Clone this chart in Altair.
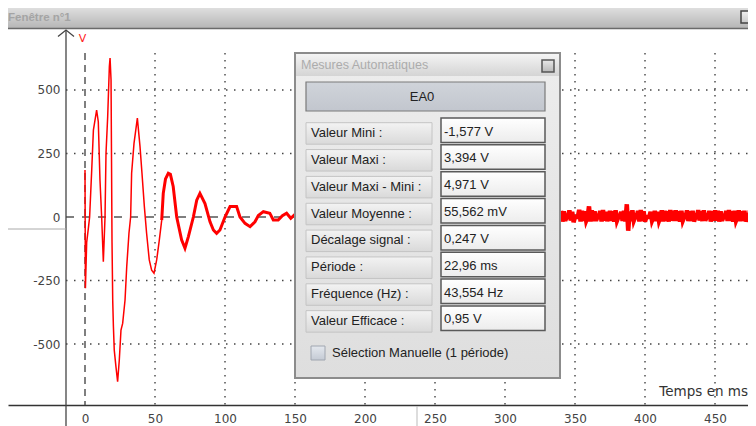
import altair as alt
import pandas as pd

# ---------------- data ----------------
# damped oscillation (time in ms, value in screen units)
osc_t = [0.0, 0.3, 1.2, 2.5, 3.3, 4.8, 6.0, 8.3, 9.5, 10.7, 11.9, 13.1, 14.3, 15.0, 16.2,
         17.4, 17.9, 18.6, 19.3, 19.8, 20.3, 20.9, 22.1, 23.3, 24.5, 25.7, 26.9, 28.6, 29.8,
         31.4, 32.6, 33.3, 35.0, 37.4, 39.3, 40.7, 42.4, 44.0, 45.9, 47.6, 49.3, 51.2, 53.1, 54.8]
osc_v = [185, -280, -100, -40, 0, 185, 342, 421, 375, 146, 0, -176, 0, 250, 395,
         592, 626, 540, -100, -330, -432, -524, -589, -648, -563, -445, -419, -327, -196,
         -64, 0, 172, 290, 389, 277, 172, 41, -64, -169, -209, -221, -169, -90, -12]

# noisy tail of the oscillation (drawn thicker)
tail_t = [54.8, 55.9, 57.5, 59.5, 61.0, 63.0, 65.5, 69.0, 71.4, 73.8, 77.4, 79.8, 82.1, 85.7,
          89.3, 91.7, 94.0, 96.4, 100.0, 103.6, 108.3, 110.7, 114.3, 117.9, 121.4, 123.8,
          127.4, 132.0, 134.5, 138.0, 141.0, 144.0, 147.0, 150.0]
tail_v = [-12, 93, 150, 172, 168, 120, 0, -90, -123, -78, 0, 66, 93, 53,
          -19, -51, -64, -51, 0, 41, 41, 0, -25, -38, -19, 6,
          21, 15, -12, -12, 5, 15, -5, 10]

# noise visible right of the measurement box, one sample per ms from 340 ms
noise_start = 340
noise_v = [24, -18, 22, -15, 0, 0, 26, -14, 20, -20,
           0, 0, 0, 28, -18, 24, -15, 22, -14, 0,
           42, -18, 26, -16, 22, -15, 0, 0, 24, -18,
           27, -14, 20, -16, 0, 24, -15, 22, -18, 26,
           -14, 0, 0, 20, -15, 24, -18, 50, -54, 22,
           -16, 26, -14, 0, 0, 24, -18, 27, -15, 22,
           -18, 0, 0, 0, 20, -14, 0, 24, -16, 20,
           -15, 0, 26, -18, 24, -15, 22, -18, 27, -14,
           24, -16, 26, -15, 22, -18, 24, -14, 0, 0,
           26, -16, 22, -15, 24, -18, 0, 0, 27, -14,
           22, -16, 26, -15, 0, 0, 24, -18, 22, -15,
           26, -14, 24, -18, 22, -15, 0, 0, 24, -16,
           27, -15, 22, -18, 24, -14, 0, 26, -16, 22,
           -15, 24, -18, 0, 0, 26, -15, 22, -18, 24,
           -14]

x_ticks = [0, 50, 100, 150, 200, 250, 300, 350, 400, 450]
y_ticks = [-500, -250, 0, 250, 500]
grid_t = [50, 100, 150, 200, 250, 300, 350, 400, 450]
grid_v = [-500, -250, 250, 500]

meas_labels = ["Valeur Mini :", "Valeur Maxi :", "Valeur Maxi - Mini :", "Valeur Moyenne :",
               "Décalage signal  :", "Période :", "Fréquence (Hz) :", "Valeur Efficace :"]
meas_values = ["-1,577 V", "3,394 V", "4,971 V", "55,562 mV", "0,247 V", "22,96 ms",
               "43,554 Hz", "0,95 V"]

window_title = "Fenêtre n°1"
box_title = "Mesures Automatiques"
channel_name = "EA0"
checkbox_label = "Sélection Manuelle (1 période)"
x_title = "Temps en ms"
y_unit = "V"

# ---------------- tables ----------------
sig = pd.concat([
    pd.DataFrame({"t": osc_t, "v": osc_v, "part": "a"}),
    pd.DataFrame({"t": tail_t, "v": tail_v, "part": "b"}),
    pd.DataFrame({"t": [noise_start + i for i in range(len(noise_v))], "v": noise_v, "part": "c"}),
], ignore_index=True)
hg = pd.DataFrame({"v": grid_v})
vg = pd.DataFrame({"t": grid_t})
zero_df = pd.DataFrame({"v": [0]})
t0_df = pd.DataFrame({"t": [0]})
rows = pd.DataFrame({"label": meas_labels, "value": meas_values, "i": list(range(len(meas_labels)))})
one = pd.DataFrame({"k": [0]})

W, H = 740, 418
FONT_AX = "DejaVu Sans"
FONT_UI = "Liberation Sans"

xs = alt.Scale(domain=[-55, 473.57], nice=False, zero=False)
ys = alt.Scale(domain=[-822.8, 822.8], nice=False, zero=False)
x_axis = alt.Axis(orient="bottom", offset=-21, values=x_ticks, domain=True, domainColor="#333333",
                  domainWidth=1.5, ticks=False, grid=False, labelPadding=17, labelBaseline="alphabetic",
                  labelFont=FONT_AX, labelFontSize=12, labelColor="#444444", labelOverlap=False,
                  labelFlush=False, title=None)
y_axis = alt.Axis(orient="left", offset=-58, values=y_ticks, domain=False, ticks=False, grid=False,
                  labelPadding=6, labelFont=FONT_AX, labelFontSize=12, labelColor="#444444",
                  labelExpr="datum.value + ''", labelOverlap=False, title=None)
X = alt.X("t:Q", scale=xs, axis=x_axis)
Y = alt.Y("v:Q", scale=ys, axis=y_axis)


def grad(c1, c2):
    return alt.LinearGradient(gradient="linear",
                              stops=[alt.GradientStop(offset=0, color=c1),
                                     alt.GradientStop(offset=1, color=c2)],
                              x1=0, x2=0, y1=0, y2=1)


layers = []

# grid
layers.append(alt.Chart(hg).mark_rule(color="#444444", strokeWidth=1.4, strokeDash=[1.5, 6.5]).encode(
    y=Y, x=alt.value(58), x2=alt.value(W)))
layers.append(alt.Chart(vg).mark_rule(color="#444444", strokeWidth=1.4, strokeDash=[1.5, 5.5]).encode(
    x=X, y=alt.value(45), y2=alt.value(397)))
layers.append(alt.Chart(zero_df).mark_rule(color="#555555", strokeWidth=1.5, strokeDash=[8, 8]).encode(
    y=Y, x=alt.value(58), x2=alt.value(W)))
layers.append(alt.Chart(t0_df).mark_rule(color="#555555", strokeWidth=1.5, strokeDash=[7, 5]).encode(
    x=X, y=alt.value(45), y2=alt.value(397)))

# signal
layers.append(alt.Chart(sig).mark_line(color="#ff0000").encode(
    x=X, y=Y, detail="part:N", order="t:Q",
    strokeWidth=alt.StrokeWidth("part:N", scale=alt.Scale(domain=["a", "b", "c"], range=[1.5, 4.5, 1.8]),
                                legend=None)))

# measurement box
layers.append(alt.Chart(one).mark_rect(fill=grad("#ededed", "#dedede"), stroke="#8c8c8c", strokeWidth=2).encode(
    x=alt.value(287), x2=alt.value(552), y=alt.value(45), y2=alt.value(370)))
layers.append(alt.Chart(one).mark_rect(fill=grad("#f4f4f4", "#d4d4d4")).encode(
    x=alt.value(288), x2=alt.value(551), y=alt.value(46), y2=alt.value(68)))
layers.append(alt.Chart(one).mark_text(text=box_title, align="left", baseline="middle", font=FONT_UI,
                                       fontSize=12.5, color="#acacac").encode(
    x=alt.value(293), y=alt.value(57)))
layers.append(alt.Chart(one).mark_rect(fill=grad("#e8e8e8", "#b8b8b8"), stroke="#555555", strokeWidth=1.5).encode(
    x=alt.value(534), x2=alt.value(546), y=alt.value(52), y2=alt.value(64)))
layers.append(alt.Chart(one).mark_rect(fill=grad("#d0d4da", "#c2c6ce"), stroke="#7a7a7a", strokeWidth=1.2).encode(
    x=alt.value(298), x2=alt.value(537), y=alt.value(74), y2=alt.value(103)))
layers.append(alt.Chart(one).mark_text(text=channel_name, align="center", baseline="middle", font=FONT_UI,
                                       fontSize=13, color="#222222").encode(
    x=alt.value(414), y=alt.value(88.5)))

rowc = alt.Chart(rows).transform_calculate(
    vb0="110 + 26.85 * datum.i", vb1="134.5 + 26.85 * datum.i",
    bb0="114.7 + 26.85 * datum.i", bb1="136.2 + 26.85 * datum.i",
    ly="125 + 26.85 * datum.i", vy="123.5 + 26.85 * datum.i")
layers.append(rowc.mark_rect(fill=grad("#f3f3f3", "#d9d9d9"), stroke="#c4c4c4", strokeWidth=1).encode(
    x=alt.value(298), x2=alt.value(424),
    y=alt.Y("bb0:Q", scale=None, axis=None), y2="bb1:Q"))
layers.append(rowc.mark_rect(fill=grad("#ffffff", "#ececec"), stroke="#5a5a5a", strokeWidth=1.5).encode(
    x=alt.value(433), x2=alt.value(537),
    y=alt.Y("vb0:Q", scale=None, axis=None), y2="vb1:Q"))
layers.append(rowc.mark_text(align="left", baseline="middle", font=FONT_UI, fontSize=13, color="#222222").encode(
    x=alt.value(303), y=alt.Y("ly:Q", scale=None, axis=None), text="label:N"))
layers.append(rowc.mark_text(align="left", baseline="middle", font=FONT_UI, fontSize=13, color="#222222").encode(
    x=alt.value(436), y=alt.Y("vy:Q", scale=None, axis=None), text="value:N"))

layers.append(alt.Chart(one).mark_rect(fill=grad("#e4e8ee", "#c4cad4"), stroke="#a0a6b0", strokeWidth=1).encode(
    x=alt.value(303), x2=alt.value(317), y=alt.value(338), y2=alt.value(352)))
layers.append(alt.Chart(one).mark_text(text=checkbox_label, align="left", baseline="middle", font=FONT_UI,
                                       fontSize=13, color="#222222").encode(
    x=alt.value(324), y=alt.value(345)))

# window title bar
layers.append(alt.Chart(one).mark_rect(fill=grad("#dedede", "#b6b6b6")).encode(
    x=alt.value(0), x2=alt.value(W), y=alt.value(0), y2=alt.value(20)))
layers.append(alt.Chart(one).mark_rule(color="#6a6a6a", strokeWidth=1.5).encode(
    x=alt.value(0), x2=alt.value(W), y=alt.value(20.5)))
layers.append(alt.Chart(one).mark_text(text=window_title, align="left", baseline="middle", font=FONT_UI,
                                       fontSize=11.5, fontWeight="bold", color="#a4a4a4").encode(
    x=alt.value(0), y=alt.value(10)))
layers.append(alt.Chart(one).mark_rect(fill=grad("#f0f0f0", "#c8c8c8"), stroke="#444444", strokeWidth=1.5).encode(
    x=alt.value(733), x2=alt.value(743), y=alt.value(3), y2=alt.value(15)))

# y axis line with arrow head and unit
layers.append(alt.Chart(one).mark_rule(color="#444444", strokeWidth=1.3).encode(
    x=alt.value(58), y=alt.value(22), y2=alt.value(H)))
layers.append(alt.Chart(one).mark_point(shape="M-1,0.8L0,0L1,0.8", filled=False, size=256, opacity=1,
                                        stroke="#444444", strokeWidth=1.3).encode(
    x=alt.value(58), y=alt.value(22)))
layers.append(alt.Chart(one).mark_text(text=y_unit, align="center", baseline="middle", font=FONT_AX,
                                       fontSize=11, color="#ff2020").encode(
    x=alt.value(74.5), y=alt.value(31)))

# small screenshot artefacts
layers.append(alt.Chart(one).mark_rule(color="#aaaaaa", strokeWidth=1).encode(
    x=alt.value(0), x2=alt.value(58), y=alt.value(221)))
layers.append(alt.Chart(one).mark_rule(color="#bbbbbb", strokeWidth=1).encode(
    x=alt.value(409), y=alt.value(398), y2=alt.value(H)))

# x axis title
layers.append(alt.Chart(one).mark_text(text=x_title, align="right", baseline="middle", font=FONT_AX,
                                       fontSize=13.5, color="#333333").encode(
    x=alt.value(W), y=alt.value(384)))

chart = alt.layer(*layers).properties(
    width=W, height=H, autosize=alt.AutoSizeParams(type="none"), padding=0,
    background="#ffffff"
).configure_view(strokeWidth=0)

chart.save("out.html", embed_options={"renderer": "svg", "actions": False})
